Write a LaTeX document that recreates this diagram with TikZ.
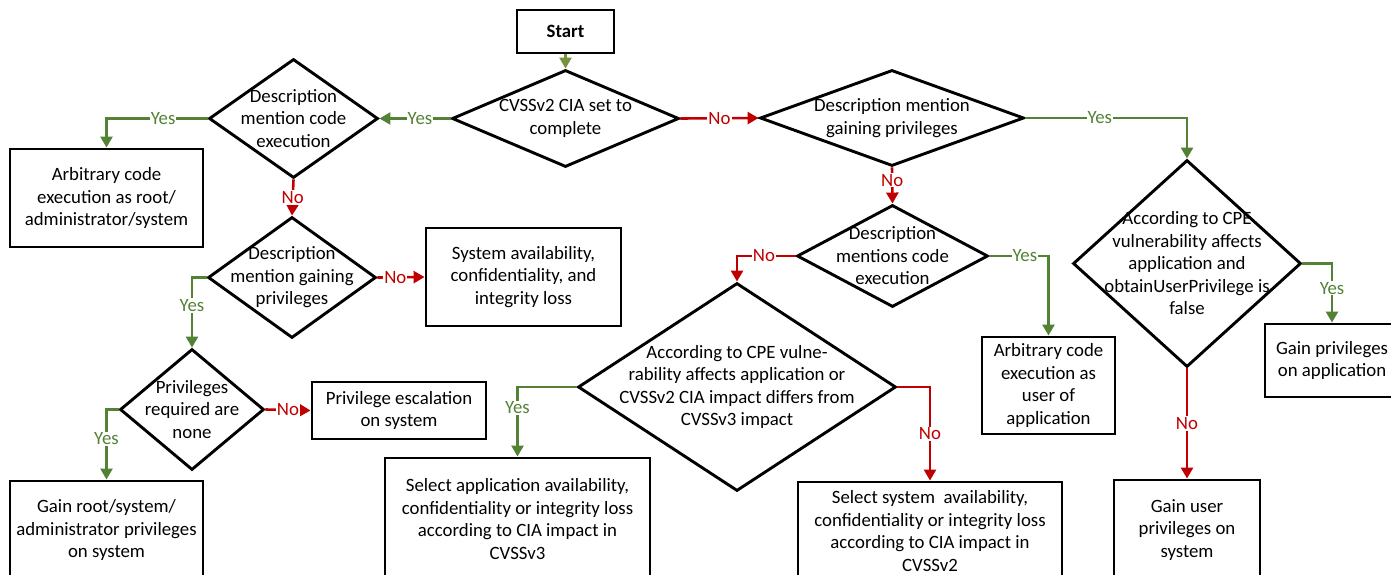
\documentclass[tikz,border=0pt]{standalone}
\usepackage{fontspec}
\setmainfont{Carlito}
\usepackage{tikz}
\usetikzlibrary{arrows.meta,shapes,positioning,calc}

\definecolor{yesgreen}{RGB}{84,130,53}
\definecolor{startgreen}{RGB}{118,146,60}
\definecolor{nored}{RGB}{192,0,0}

\begin{document}
\begin{tikzpicture}[x=1pt, y=-1pt,
  font=\fontsize{18.8}{22.5}\selectfont,
  box/.style={draw, rectangle, line width=2.9pt, align=center, inner sep=0pt},
  dia/.style={draw, diamond, line width=2.9pt, inner sep=0pt},
  txt/.style={align=center},
  flow/.style={line width=2.6pt, -{Triangle[length=11pt,width=12pt]}},
  startflow/.style={flow, draw=startgreen},
  yesflow/.style={flow, draw=yesgreen},
  noflow/.style={flow, draw=nored},
  yeslbl/.style={fill=white, text=yesgreen, inner sep=1pt},
  nolbl/.style={fill=white, text=nored, inner sep=1pt}]
\useasboundingbox (0,0) rectangle (1391,575);
\clip (0,0) rectangle (1391,575);

% Start
\node[box, minimum width=97pt, minimum height=43pt] (start) at (565.5,31.5) {\bfseries Start};

% Decisions
\node[dia, minimum width=227pt, minimum height=97pt] (cia) at (565.5,118.5) {};
\node[txt] at (cia) {CVSSv2 CIA set to\\complete};
\node[dia, minimum width=169pt, minimum height=119pt] (codeexec) at (293.5,118.5) {};
\node[txt] at (codeexec) {Description\\mention code\\execution};
\node[dia, minimum width=168pt, minimum height=121pt] (privdesc) at (292,277.5) {};
\node[txt] at (privdesc) {Description\\mention gaining\\privileges};
\node[dia, minimum width=144pt, minimum height=121pt] (privnone) at (192,409.5) {};
\node[txt] at (privnone) {Privileges\\required are\\none};
\node[dia, minimum width=264pt, minimum height=96pt] (gaindesc) at (892,118) {};
\node[txt] at (gaindesc) {Description mention\\gaining privileges};
\node[dia, minimum width=191pt, minimum height=102pt] (codedesc) at (892.5,256) {};
\node[txt] at (codedesc) {Description\\mentions code\\execution};
\node[dia, minimum width=318pt, minimum height=208pt] (cpeapp) at (737,387) {};
\node[txt] at (cpeapp) {According to CPE vulne-\\rability affects application or\\CVSSv2 CIA impact differs from\\CVSSv3 impact};
\node[dia, minimum width=228pt, minimum height=207pt] (cpeuser) at (1187,263.5) {};
\node[txt] at (cpeuser) {According to CPE\\vulnerability affects\\application and\\obtainUserPrivilege is\\false};

% Outcomes
\node[box, minimum width=193pt, minimum height=98pt] (arbroot) at (106.5,198) {Arbitrary code\\execution as root/\\administrator/system};
\node[box, minimum width=195pt, minimum height=98pt] (sysloss) at (523.5,277) {System availability,\\confidentiality, and\\integrity loss};
\node[box, minimum width=174pt, minimum height=57pt] (privesc) at (399,410.5) {Privilege escalation\\on system};
\node[box, minimum width=193pt, minimum height=98pt] (gainroot) at (106.5,530) {Gain root/system/\\administrator privileges\\on system};
\node[box, minimum width=265pt, minimum height=122pt] (selapp) at (517.5,519) {Select application availability,\\confidentiality or integrity loss\\according to CIA impact in\\CVSSv3};
\node[box, minimum width=264pt, minimum height=98pt] (selsys) at (930,531) {Select system\ \ availability,\\confidentiality or integrity loss\\according to CIA impact in\\CVSSv2};
\node[box, minimum width=133pt, minimum height=97pt] (arbuser) at (1048.5,385.5) {Arbitrary code\\execution as\\user of\\application};
\node[box, minimum width=146pt, minimum height=100pt] (gainuser) at (1187,530) {Gain user\\privileges on\\system};
\node[box, minimum width=134pt, minimum height=73pt] (gainapp) at (1332,360.5) {Gain privileges\\on application};

% Flows
\draw[startflow] (start) -- (cia);
\draw[yesflow] (cia.west) -- node[yeslbl, pos=0.43] {Yes} (codeexec.east);
\draw[yesflow] (codeexec.west) -| node[yeslbl, pos=0.22] {Yes} (arbroot.north);
\draw[noflow] (codeexec.south) -- node[nolbl] {No} (privdesc.north);
\draw[noflow] (privdesc.east) -- node[nolbl, pos=0.38] {No} (sysloss.west);
\draw[yesflow] (privdesc.west) -| node[yeslbl, pos=0.7] {Yes} (privnone.north);
\draw[noflow] (privnone.east) -- node[nolbl] {No} (privesc.west);
\draw[yesflow] (privnone.west) -| node[yeslbl, pos=0.71] {Yes} (gainroot.north);
\draw[noflow] (cia.east) -- node[nolbl] {No} (gaindesc.west);
\draw[yesflow] (gaindesc.east) -| node[yeslbl, pos=0.23] {Yes} (cpeuser.north);
\draw[noflow] (gaindesc.south) -- node[nolbl, pos=0.35] {No} (codedesc.north);
\draw[noflow] (codedesc.west) -| node[nolbl, pos=0.27] {No} (cpeapp.north);
\draw[yesflow] (codedesc.east) -| node[yeslbl, pos=0.3] {Yes} (arbuser.north);
\draw[yesflow] (cpeapp.west) -| node[yeslbl, pos=0.65] {Yes} (selapp.north);
\draw[noflow] (cpeapp.east) -| node[nolbl, pos=0.75] {No} (selsys.north);
\draw[yesflow] (cpeuser.east) -| node[yeslbl, pos=0.71] {Yes} (gainapp.north);
\draw[noflow] (cpeuser.south) -- node[nolbl] {No} (gainuser.north);

\end{tikzpicture}
\end{document}
